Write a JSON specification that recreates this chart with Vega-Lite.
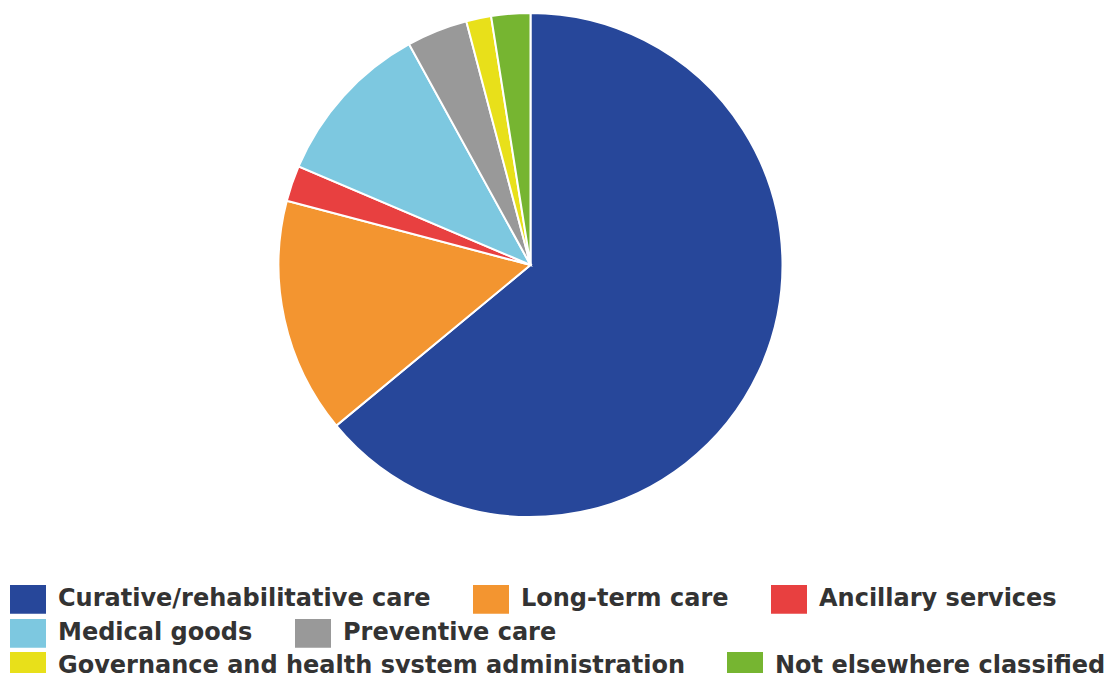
{
  "$schema": "https://vega.github.io/schema/vega-lite/v6.json",
  "width": 1061,
  "height": 530,
  "padding": 0,
  "autosize": {"type": "pad"},
  "background": "white",
  "data": {
    "values": [
      {"category": "Curative/rehabilitative care", "value": 64.0, "order": 1},
      {"category": "Long-term care", "value": 15.1, "order": 2},
      {"category": "Ancillary services", "value": 2.3, "order": 3},
      {"category": "Medical goods", "value": 10.6, "order": 4},
      {"category": "Preventive care", "value": 3.9, "order": 5},
      {"category": "Governance and health system administration", "value": 1.6, "order": 6},
      {"category": "Not elsewhere classified", "value": 2.5, "order": 7}
    ]
  },
  "transform": [
    {"stack": "value", "groupby": [], "sort": [{"field": "order", "order": "ascending"}], "as": ["v0", "v1"]}
  ],
  "config": {
    "view": {"stroke": null},
    "legend": {
      "orient": "none",
      "direction": "horizontal",
      "title": null,
      "padding": 0,
      "symbolType": "M-1,-0.794H1V0.794H-1Z",
      "symbolSize": 1296,
      "symbolStrokeWidth": 0,
      "symbolOpacity": 1,
      "labelFont": "DejaVu Sans",
      "labelFontWeight": "bold",
      "labelFontSize": 24,
      "labelColor": "#333333",
      "labelLimit": 700,
      "labelOffset": 12,
      "columnPadding": 42
    }
  },
  "resolve": {"scale": {"color": "independent"}},
  "layer": [
    {
      "transform": [{"filter": {"field": "category", "oneOf": ["Curative/rehabilitative care", "Long-term care", "Ancillary services"]}}],
      "mark": {"type": "arc", "radius": 252, "stroke": "white", "strokeWidth": 2},
      "encoding": {
        "theta": {"field": "v0", "type": "quantitative", "scale": {"domain": [0, 100]}},
        "theta2": {"field": "v1"},
        "color": {
          "field": "category", "type": "nominal",
          "scale": {"domain": ["Curative/rehabilitative care", "Long-term care", "Ancillary services"], "range": ["#27479A", "#F39530", "#E84040"]},
          "legend": {"legendX": 10, "legendY": 581}
        }
      }
    },
    {
      "transform": [{"filter": {"field": "category", "oneOf": ["Medical goods", "Preventive care"]}}],
      "mark": {"type": "arc", "radius": 252, "stroke": "white", "strokeWidth": 2},
      "encoding": {
        "theta": {"field": "v0", "type": "quantitative", "scale": {"domain": [0, 100]}},
        "theta2": {"field": "v1"},
        "color": {
          "field": "category", "type": "nominal",
          "scale": {"domain": ["Medical goods", "Preventive care"], "range": ["#7DC8E0", "#999999"]},
          "legend": {"legendX": 10, "legendY": 615}
        }
      }
    },
    {
      "transform": [{"filter": {"field": "category", "oneOf": ["Governance and health system administration", "Not elsewhere classified"]}}],
      "mark": {"type": "arc", "radius": 252, "stroke": "white", "strokeWidth": 2},
      "encoding": {
        "theta": {"field": "v0", "type": "quantitative", "scale": {"domain": [0, 100]}},
        "theta2": {"field": "v1"},
        "color": {
          "field": "category", "type": "nominal",
          "scale": {"domain": ["Governance and health system administration", "Not elsewhere classified"], "range": ["#E8E01A", "#76B531"]},
          "legend": {"legendX": 10, "legendY": 648}
        }
      }
    }
  ]
}
